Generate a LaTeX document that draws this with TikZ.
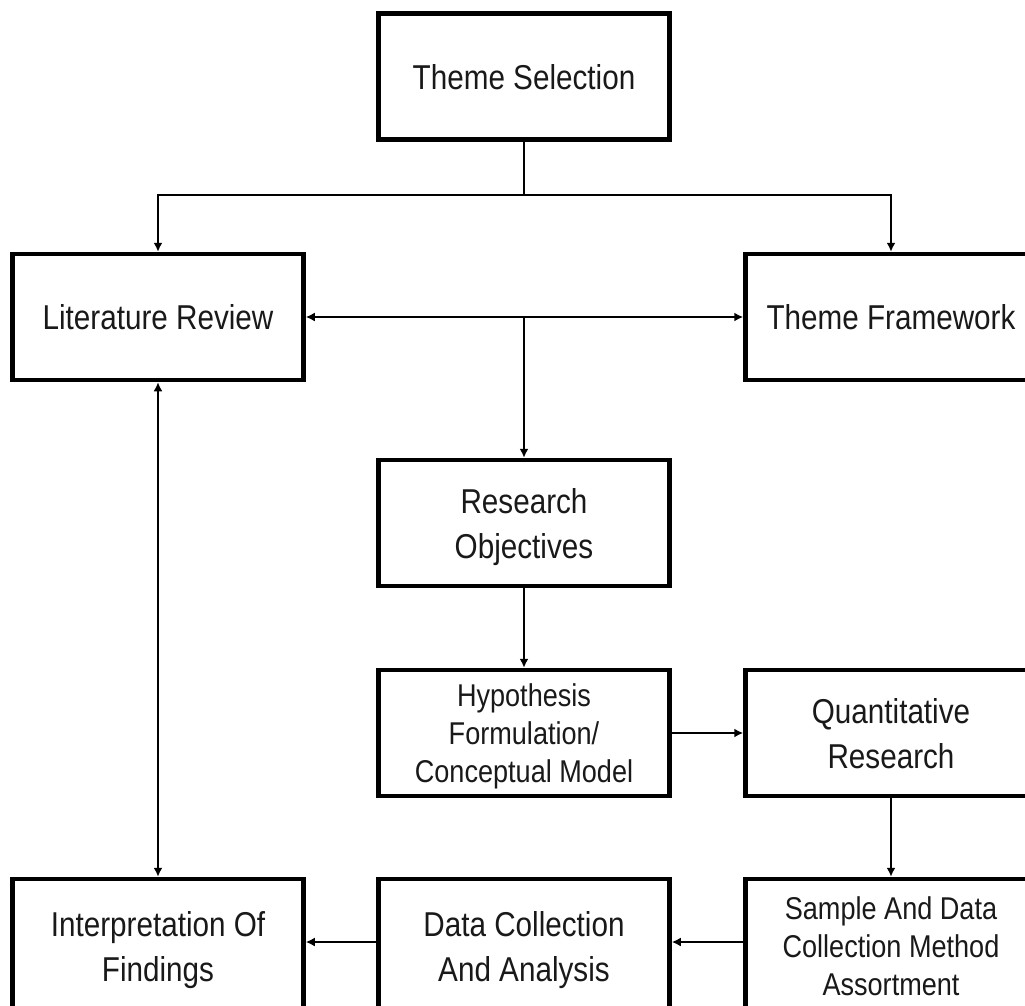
\documentclass[tikz,border=0pt]{standalone}
\usepackage{fontspec}
\setmainfont{Liberation Sans}[FakeStretch=0.86]
\usetikzlibrary{arrows.meta}
\begin{document}
\begin{tikzpicture}[x=1pt,y=-1pt,
  box/.style={draw, line width=4.5pt, minimum width=291pt, minimum height=126pt,
    inner sep=0pt, align=center, text depth=0pt, text=black!90,
    font={\fontsize{34.5}{45}\selectfont}},
  smallbox/.style={box, font={\fontsize{31.5}{38}\selectfont}},
  lowbox/.style={minimum height=134pt},
  conn/.style={line width=2.5pt},
  arr/.style={conn, -{Latex[length=9pt,width=9pt]}},
  arrs/.style={conn, {Latex[length=9pt,width=9pt]}-{Latex[length=9pt,width=9pt]}}]
\useasboundingbox (0,0) rectangle (1025,1005);
\clip (0,0) rectangle (1025,1005);

% boxes
\node[box] (ts) at (524,76.5) {Theme Selection};
\node[box] (lr) at (158,317) {Literature Review};
\node[box] (tf) at (891,317) {Theme Framework};
\node[box] (ro) at (524,523) {Research\\Objectives};
\node[smallbox] (hy) at (524,733) {Hypothesis\\Formulation/\\Conceptual Model};
\node[box] (qr) at (891,733) {Quantitative\\Research};
\node[box, lowbox] (in) at (158,946) {Interpretation Of\\Findings};
\node[box, lowbox] (dc) at (524,946) {Data Collection\\And Analysis};
\node[smallbox, lowbox] (sa) at (891,946) {Sample And Data\\Collection Method\\Assortment};

% connectors
\coordinate (split) at (524,195);
\draw[conn] (ts.south) -- (split);
\draw[arr] (split) -| (lr.north);
\draw[arr] (split) -| (tf.north);
\draw[arrs] (lr.east) -- (tf.west);
\coordinate (hub) at (ro.north |- lr.east);
\draw[arr] (hub) -- (ro.north);
\draw[arr] (ro.south) -- (hy.north);
\draw[arr] (hy.east) -- (qr.west);
\draw[arr] (qr.south) -- (sa.north);
\draw[arr] ([yshift=4pt]sa.west) -- ([yshift=4pt]dc.east);
\draw[arr] ([yshift=4pt]dc.west) -- ([yshift=4pt]in.east);
\draw[arrs] (lr.south) -- (in.north);
\end{tikzpicture}
\end{document}
